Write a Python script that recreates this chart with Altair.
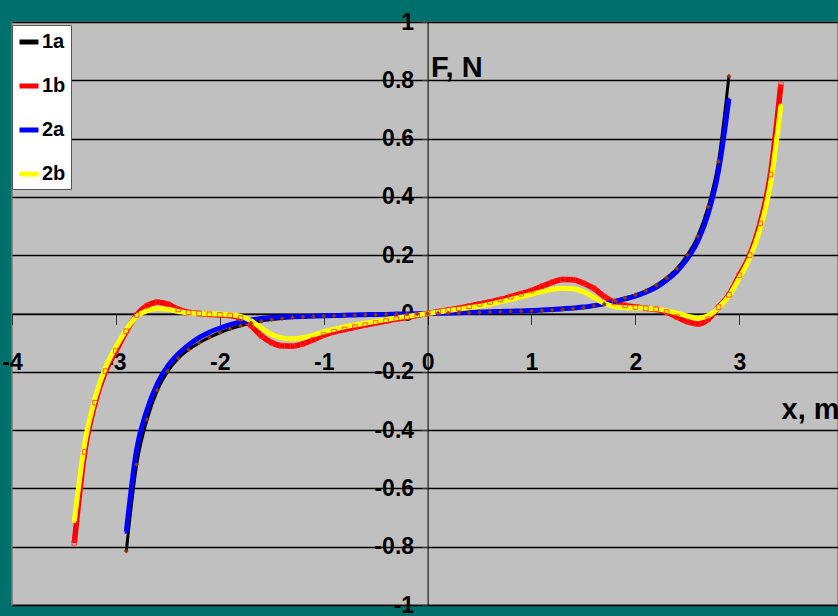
import altair as alt
import pandas as pd

# ---------------- data ----------------
x_a = [-2.9, -2.8, -2.7, -2.6, -2.5, -2.4, -2.3, -2.2, -2.1, -2.0, -1.9, -1.8, -1.7, -1.6, -1.5,
       -1.4, -1.3, -1.2, -1.1, -1.0, -0.9, -0.8, -0.7, -0.6, -0.5, -0.4, -0.3, -0.2, -0.1, 0.0,
       0.1, 0.2, 0.3, 0.4, 0.5, 0.6, 0.7, 0.8, 0.9, 1.0, 1.1, 1.2, 1.3, 1.4, 1.5,
       1.6, 1.7, 1.8, 1.9, 2.0, 2.1, 2.2, 2.3, 2.4, 2.5, 2.6, 2.7, 2.8, 2.9]

y_1a = [-0.815, -0.518, -0.364, -0.263, -0.198, -0.154, -0.124, -0.101, -0.082, -0.066, -0.053, -0.042,
        -0.033, -0.026, -0.021, -0.017, -0.014, -0.012, -0.010, -0.009, -0.008, -0.007, -0.006, -0.005,
        -0.004, -0.003, -0.002, -0.0015, -0.001, 0.0,
        0.001, 0.0015, 0.002, 0.003, 0.004, 0.005, 0.006, 0.007, 0.008, 0.009, 0.010, 0.012, 0.014,
        0.017, 0.021, 0.026, 0.033, 0.043, 0.053, 0.064, 0.078, 0.097, 0.122, 0.154, 0.201, 0.265,
        0.366, 0.522, 0.814]

y_2a = [-0.749, -0.465, -0.330, -0.240, -0.180, -0.139, -0.108, -0.083, -0.064, -0.050, -0.038, -0.029,
        -0.022, -0.017, -0.014, -0.012, -0.011, -0.010, -0.009, -0.008, -0.007, -0.006, -0.005, -0.004,
        -0.0035, -0.003, -0.002, -0.0015, -0.001, 0.0,
        0.001, 0.002, 0.003, 0.004, 0.005, 0.006, 0.007, 0.008, 0.009, 0.010, 0.012, 0.014, 0.016,
        0.019, 0.022, 0.027, 0.033, 0.041, 0.050, 0.060, 0.073, 0.090, 0.114, 0.145, 0.188, 0.248,
        0.342, 0.490, 0.736]

x_b = [-3.4, -3.3, -3.2, -3.1, -3.0, -2.9, -2.8, -2.7, -2.6, -2.5, -2.4, -2.3, -2.2, -2.1, -2.0,
       -1.9, -1.8, -1.7, -1.6, -1.5, -1.4, -1.3, -1.2, -1.1, -1.0, -0.9, -0.8, -0.7, -0.6, -0.5,
       -0.4, -0.3, -0.2, -0.1, 0.0, 0.1, 0.2, 0.3, 0.4, 0.5, 0.6, 0.7, 0.8, 0.9, 1.0,
       1.1, 1.2, 1.3, 1.4, 1.5, 1.6, 1.7, 1.8, 1.9, 2.0, 2.1, 2.2, 2.3, 2.4, 2.5,
       2.6, 2.7, 2.8, 2.9, 3.0, 3.1, 3.2, 3.3, 3.4]

y_1b = [-0.787, -0.475, -0.306, -0.198, -0.129, -0.061, -0.005, 0.027, 0.039, 0.032, 0.014, 0.004,
        0.000, -0.003, -0.005, -0.007, -0.016, -0.041, -0.077, -0.100, -0.111, -0.112, -0.104, -0.090,
        -0.074, -0.063, -0.055, -0.047, -0.040, -0.033, -0.026, -0.019, -0.013, -0.006, 0.0,
        0.006, 0.012, 0.018, 0.025, 0.033, 0.040, 0.048, 0.058, 0.068, 0.079, 0.093, 0.107, 0.117,
        0.116, 0.104, 0.086, 0.058, 0.038, 0.028, 0.022, 0.018, 0.014, 0.005, -0.012, -0.028,
        -0.036, -0.020, 0.022, 0.064, 0.131, 0.200, 0.309, 0.477, 0.786]

y_2b = [-0.712, -0.445, -0.290, -0.185, -0.115, -0.055, -0.010, 0.010, 0.017, 0.015, 0.007, 0.002,
        0.000, -0.001, -0.002, -0.004, -0.010, -0.025, -0.050, -0.072, -0.084, -0.087, -0.083, -0.074,
        -0.063, -0.054, -0.046, -0.039, -0.033, -0.027, -0.021, -0.015, -0.010, -0.005, 0.0,
        0.005, 0.010, 0.015, 0.020, 0.025, 0.032, 0.040, 0.048, 0.057, 0.066, 0.075, 0.083, 0.087,
        0.085, 0.075, 0.055, 0.035, 0.023, 0.020, 0.019, 0.018, 0.015, 0.010, 0.001, -0.009,
        -0.016, -0.008, 0.020, 0.060, 0.122, 0.190, 0.290, 0.445, 0.713]

series_names = ["1a", "1b", "2a", "2b"]
series_colors = ["#000000", "#FF0000", "#0000FF", "#FFFF00"]
x_ticks = [-4, -3, -2, -1, 0, 1, 2, 3]
y_ticks = [-1, -0.8, -0.6, -0.4, -0.2, 0, 0.2, 0.4, 0.6, 0.8, 1]

frames = []
for name, xs, ys in [("1a", x_a, y_1a), ("1b", x_b, y_1b), ("2a", x_a, y_2a), ("2b", x_b, y_2b)]:
    frames.append(pd.DataFrame({"x": xs, "F": ys, "series": name}))
df = pd.concat(frames, ignore_index=True)

FONT = "Liberation Sans Narrow, Arial Narrow, Liberation Sans, Arial, sans-serif"

x_scale = alt.Scale(domain=[-4, 3.95], nice=False, zero=False)
y_scale = alt.Scale(domain=[-1, 1], nice=False, zero=False)

x_axis = alt.Axis(values=x_ticks, orient="bottom", offset=-291.5, grid=False,
                  tickSize=11, tickColor="#333333", domainColor="#000000", domainWidth=1,
                  labelExpr="datum.value + ''", labelFont=FONT, labelFontSize=23,
                  labelFontWeight="bold", labelColor="#000000", labelPadding=27,
                  labelFlush=False, labelOverlap=False,
                  title="x, mm", titleFont=FONT, titleFontSize=29, titleFontWeight="bold",
                  titleColor="#000000", titleAlign="left", titleBaseline="alphabetic",
                  titleX=769, titleY=104.5, titleAnchor="start")

y_axis = alt.Axis(values=y_ticks, orient="left", offset=-415.6, grid=True,
                  gridColor="#000000", gridWidth=1.3, gridOpacity=1,
                  tickSize=6, tickColor="#333333", domainColor="#000000", domainWidth=1,
                  labelExpr="datum.value + ''", labelFont=FONT, labelFontSize=23,
                  labelFontWeight="bold", labelColor="#000000", labelPadding=8,
                  labelFlush=False, labelOverlap=False,
                  title="F, N", titleFont=FONT, titleFontSize=29, titleFontWeight="bold",
                  titleColor="#000000", titleAngle=0, titleAlign="left",
                  titleBaseline="alphabetic", titleX=3, titleY=54, titleAnchor="start")

color = alt.Color("series:N",
                  scale=alt.Scale(domain=series_names, range=series_colors),
                  legend=alt.Legend(orient="none", legendX=0, legendY=3, title=None,
                                    fillColor="#FFFFFF", strokeColor="#555555",
                                    padding=5, rowPadding=22, symbolType="stroke",
                                    symbolSize=360, symbolStrokeWidth=5,
                                    labelFont=FONT, labelFontSize=20, labelFontWeight="bold",
                                    labelColor="#000000", labelOffset=1))

base = alt.Chart(df)

def line_layer(name, width):
    return base.transform_filter(alt.datum.series == name).mark_line(
        strokeWidth=width, interpolate="monotone"
    ).encode(
        x=alt.X("x:Q", scale=x_scale, axis=x_axis),
        y=alt.Y("F:Q", scale=y_scale, axis=y_axis),
        color=color,
    )

def point_layer(name, shape, size, fill, stroke, sw):
    return base.transform_filter(alt.datum.series == name).mark_point(
        shape=shape, size=size, filled=False, fill=fill, stroke=stroke, strokeWidth=sw, opacity=1
    ).encode(
        x=alt.X("x:Q", scale=x_scale),
        y=alt.Y("F:Q", scale=y_scale),
    )

chart = alt.layer(
    line_layer("1a", 3),
    line_layer("1b", 5.5),
    line_layer("2a", 5),
    line_layer("2b", 5),
    point_layer("2a", "triangle-up", 12, "#0000FF", "#0000FF", 0.5),
    point_layer("2b", "square", 10, "#FFFF00", "#FFFF00", 0.5),
    point_layer("1a", "diamond", 18, "#8B3A0E", "#8B3A0E", 0.5),
    point_layer("1b", "square", 22, "transparent", "#FF3030", 0.8),
).properties(
    width=826, height=583,
    autosize=alt.AutoSizeParams(type="none"),
    padding={"left": 12, "top": 22, "right": 0, "bottom": 11},
    background="#00706C",
).configure_view(
    fill="#C0C0C0", stroke="#7A7A7A", strokeWidth=1.5
)

chart.save("out.html", embed_options={"renderer": "svg", "actions": False})
